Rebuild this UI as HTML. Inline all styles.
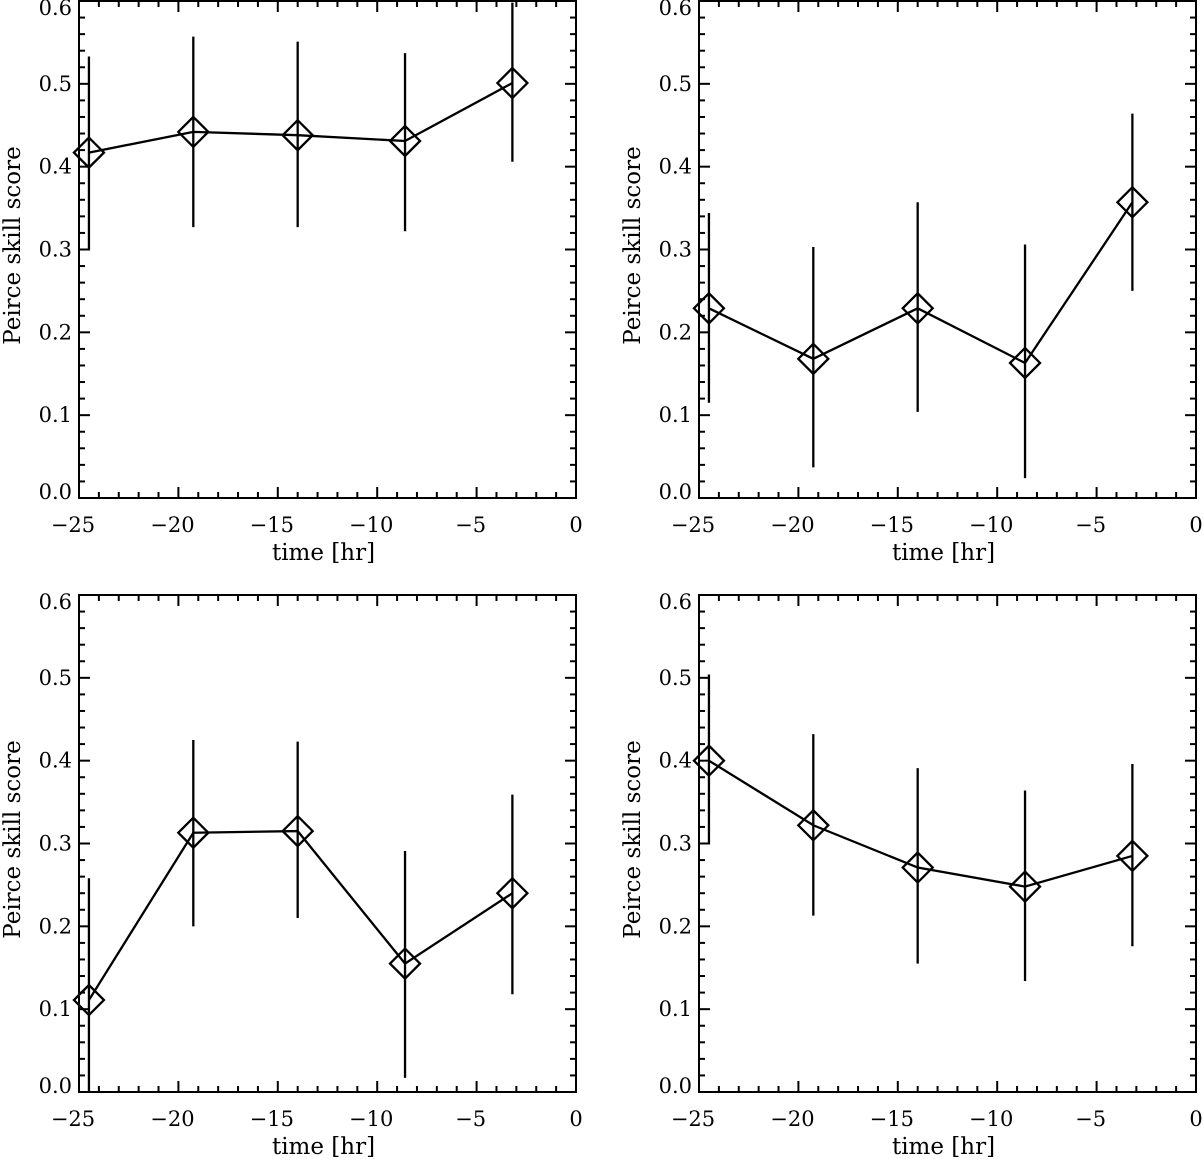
<!DOCTYPE html>
<html><head><meta charset="utf-8"><style>
html,body{margin:0;padding:0;background:#fff;}
svg{display:block;}
text{font-family:"DejaVu Serif","Liberation Serif",serif;fill:#000;}
</style></head><body>
<svg id="fig" width="1203" height="1159" viewBox="0 0 1203 1159" xmlns="http://www.w3.org/2000/svg"></svg>
<script>
const times = [-24.5, -19.25, -14, -8.6, -3.2];
const scoreA = [0.417, 0.442, 0.438, 0.431, 0.501];
const lowA = [0.300, 0.327, 0.327, 0.322, 0.406];
const highA = [0.533, 0.557, 0.551, 0.537, 0.598];
const scoreB = [0.229, 0.168, 0.229, 0.163, 0.357];
const lowB = [0.115, 0.037, 0.104, 0.024, 0.250];
const highB = [0.344, 0.303, 0.357, 0.306, 0.464];
const scoreC = [0.111, 0.313, 0.315, 0.155, 0.240];
const lowC = [0.0, 0.200, 0.210, 0.017, 0.118];
const highC = [0.258, 0.425, 0.423, 0.291, 0.359];
const scoreD = [0.400, 0.322, 0.271, 0.248, 0.285];
const lowD = [0.299, 0.213, 0.155, 0.134, 0.176];
const highD = [0.504, 0.432, 0.391, 0.364, 0.396];
const xTicks = [-25, -20, -15, -10, -5, 0];
const xTickLabels = ["\u221225", "\u221220", "\u221215", "\u221210", "\u22125", "0"];
const yTicks = [0, 0.1, 0.2, 0.3, 0.4, 0.5, 0.6];
const yTickLabels = ["0.0", "0.1", "0.2", "0.3", "0.4", "0.5", "0.6"];

const NS = "http://www.w3.org/2000/svg";
const svg = document.getElementById('fig');
function mk(tag, attrs, parent) {
  const e = document.createElementNS(NS, tag);
  for (const k in attrs) e.setAttribute(k, attrs[k]);
  parent.appendChild(e);
  return e;
}
const panels = [
  {x0:79, x1:576, y0:1, y1:498, s:scoreA, lo:lowA, hi:highA, id:'top-left'},
  {x0:699, x1:1196, y0:1, y1:498, s:scoreB, lo:lowB, hi:highB, id:'top-right'},
  {x0:79, x1:576, y0:595, y1:1092, s:scoreC, lo:lowC, hi:highC, id:'bottom-left'},
  {x0:699, x1:1196, y0:595, y1:1092, s:scoreD, lo:lowD, hi:highD, id:'bottom-right'}
];
panels.forEach(p => {
  const g = mk('g', {}, svg);
  
  
  const X = v => p.x0 + (v + 25) / 25 * (p.x1 - p.x0);
  const Y = v => p.y1 - v / 0.6 * (p.y1 - p.y0);
  const st = {stroke:'#000', 'stroke-width':2, fill:'none'};
  const tg = mk('g', st, g);
  
  
  for (let t = -25; t <= 0; t++) {
    const L = (t % 5 === 0) ? 11 : 6;
    mk('line', {x1:X(t), x2:X(t), y1:p.y1, y2:p.y1 - L}, tg);
    mk('line', {x1:X(t), x2:X(t), y1:p.y0, y2:p.y0 + L}, tg);
  }
  for (let i = 0; i <= 30; i++) {
    const v = i * 0.02;
    const L = (i % 5 === 0) ? 11 : 6;
    mk('line', {x1:p.x0, x2:p.x0 + L, y1:Y(v), y2:Y(v)}, tg);
    mk('line', {x1:p.x1, x2:p.x1 - L, y1:Y(v), y2:Y(v)}, tg);
  }
  const box = mk('rect', {x:p.x0, y:p.y0, width:p.x1 - p.x0, height:p.y1 - p.y0, stroke:'#000', 'stroke-width':2, fill:'none'}, g);
  
  
  xTicks.forEach((t, i) => {
    const tx = mk('text', {x:X(t) - (i < 5 ? 6 : 0), y:p.y1 + 34, 'font-size':21, 'text-anchor':'middle'}, g);
    
    
    tx.textContent = xTickLabels[i];
  });
  yTicks.forEach((t, i) => {
    let yy = Y(t) + 7;
    if (i === 0) yy -= 6;
    if (i === 6) yy += 7;
    const ty = mk('text', {x:p.x0 - 7, y:yy, 'font-size':21, 'text-anchor':'end'}, g);
    
    
    ty.textContent = yTickLabels[i];
  });
  const xl = mk('text', {x:(p.x0 + p.x1) / 2 - 4, y:p.y1 + 62, 'font-size':23, 'text-anchor':'middle'}, g);
  
  
  xl.textContent = 'time [hr]';
  const cy = (p.y0 + p.y1) / 2 - 4;
  const yl = mk('text', {x:p.x0 - 59, y:cy, 'font-size':23, 'text-anchor':'middle', transform:'rotate(-90 ' + (p.x0 - 59) + ' ' + cy + ')'}, g);
  
  
  yl.textContent = 'Peirce skill score';
  times.forEach((t, i) => {
    const eb = mk('line', {x1:X(t), x2:X(t), y1:Y(p.lo[i]), y2:Y(p.hi[i]), stroke:'#000', 'stroke-width':2.3}, g);
    
    
  });
  const pts = times.map((t, i) => X(t) + ',' + Y(p.s[i])).join(' ');
  const ln = mk('polyline', {points:pts, stroke:'#000', 'stroke-width':2.3, fill:'none'}, g);
  
  
  times.forEach((t, i) => {
    const cx = X(t), cyy = Y(p.s[i]), r = 15;
    const d = mk('polygon', {points:`${cx-r},${cyy} ${cx},${cyy-r} ${cx+r},${cyy} ${cx},${cyy+r}`, stroke:'#000', 'stroke-width':2.3, fill:'none'}, g);
    
    
  });
});
</script>
</body></html>
